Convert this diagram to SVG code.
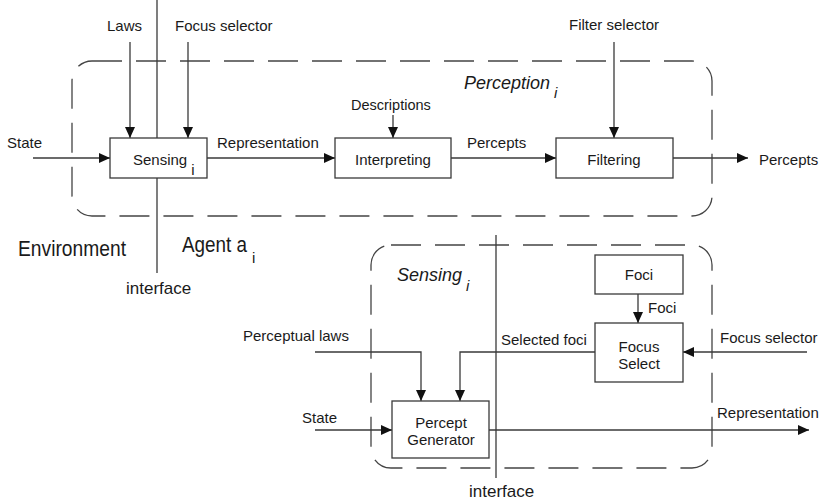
<svg xmlns="http://www.w3.org/2000/svg" width="823" height="503" viewBox="0 0 823 503">
  <style>
    text { font-family: "Liberation Sans", Arial, sans-serif; fill: #1a1a1a; }
    .lbl { font-size: 15px; }
    .big { font-size: 22px; }
    .title { font-size: 18px; font-style: italic; }
    .sub { font-size: 15px; }
    .box { fill: #ffffff; stroke: #3a3a3a; stroke-width: 1.3; }
    .line { fill: none; stroke: #3a3a3a; stroke-width: 1.3; }
    .arrow { fill: none; stroke: #3a3a3a; stroke-width: 1.3; marker-end: url(#head); }
    .dash { fill: none; stroke: #444; stroke-width: 1.3; stroke-dasharray: 30 14; }
  </style>
  <defs>
    <marker id="head" markerUnits="userSpaceOnUse" markerWidth="11" markerHeight="10" refX="11" refY="5" orient="auto">
      <path d="M0,0 L11,5 L0,10 z" fill="#111"/>
    </marker>
  </defs>
  <rect width="823" height="503" fill="#ffffff"/>

  <!-- module outlines -->
  <g id="perception-frame">
    <rect class="dash" x="72" y="61" width="640" height="155" rx="20" ry="20"/>
    <text class="title" x="464" y="89">Perception<tspan class="sub" dx="4" dy="9">i</tspan></text>
  </g>
  <g id="sensing-frame">
    <rect class="dash" x="371" y="245" width="341" height="223" rx="20" ry="20"/>
    <text class="title" x="397" y="281">Sensing<tspan class="sub" dx="4" dy="10">i</tspan></text>
  </g>

  <!-- environment / agent interface -->
  <g id="interface-top">
    <line class="line" x1="157" y1="0" x2="157" y2="273"/>
    <text class="big" x="18" y="256" textLength="108" lengthAdjust="spacingAndGlyphs">Environment</text>
    <text class="big" x="182" y="252"><tspan textLength="65" lengthAdjust="spacingAndGlyphs">Agent a</tspan><tspan class="sub" dx="5" dy="11">i</tspan></text>
    <text x="126" y="294" style="font-size:17px">interface</text>
  </g>
  <g id="interface-bottom">
    <line class="line" x1="496" y1="235" x2="496" y2="478"/>
    <text x="469" y="497" style="font-size:17px">interface</text>
  </g>

  <!-- connectors -->
  <g id="connectors">
    <line class="arrow" x1="33" y1="158" x2="110" y2="158"/>
    <line class="arrow" x1="130" y1="42" x2="130" y2="138"/>
    <line class="arrow" x1="188" y1="42" x2="188" y2="138"/>
    <line class="arrow" x1="207" y1="158" x2="335" y2="158"/>
    <line class="arrow" x1="393" y1="115" x2="393" y2="138"/>
    <line class="arrow" x1="451" y1="158" x2="556" y2="158"/>
    <line class="arrow" x1="614" y1="42" x2="614" y2="138"/>
    <line class="arrow" x1="673" y1="158" x2="748" y2="158"/>

    <line class="arrow" x1="638" y1="294" x2="638" y2="323"/>
    <line class="arrow" x1="807" y1="352" x2="683" y2="352"/>
    <polyline class="arrow" points="595,352 460,352 460,401"/>
    <polyline class="arrow" points="315,352 421,352 421,401"/>
    <line class="arrow" x1="315" y1="430" x2="392" y2="430"/>
    <line class="arrow" x1="489" y1="430" x2="809" y2="430"/>
  </g>

  <!-- connector labels -->
  <g id="labels">
    <text class="lbl" x="107" y="31">Laws</text>
    <text class="lbl" x="175" y="31">Focus selector</text>
    <text class="lbl" x="569" y="30">Filter selector</text>
    <text class="lbl" x="7" y="148">State</text>
    <text class="lbl" x="217" y="148">Representation</text>
    <text class="lbl" x="351" y="110" style="font-size:14.5px">Descriptions</text>
    <text class="lbl" x="467" y="148">Percepts</text>
    <text class="lbl" x="759" y="165">Percepts</text>
    <text class="lbl" x="648" y="313">Foci</text>
    <text class="lbl" x="720" y="343">Focus selector</text>
    <text class="lbl" x="501" y="345">Selected foci</text>
    <text class="lbl" x="243" y="341">Perceptual laws</text>
    <text class="lbl" x="302" y="423">State</text>
    <text class="lbl" x="717" y="418">Representation</text>
  </g>

  <!-- processing blocks -->
  <g id="sensing">
    <rect class="box" x="110" y="138" width="97" height="40"/>
    <text class="lbl" x="133" y="165">Sensing<tspan dx="4" dy="10">i</tspan></text>
  </g>
  <g id="interpreting">
    <rect class="box" x="335" y="138" width="116" height="40"/>
    <text class="lbl" x="393" y="165" text-anchor="middle">Interpreting</text>
  </g>
  <g id="filtering">
    <rect class="box" x="556" y="138" width="117" height="40"/>
    <text class="lbl" x="614" y="165" text-anchor="middle">Filtering</text>
  </g>
  <g id="foci">
    <rect class="box" x="595" y="255" width="88" height="39"/>
    <text class="lbl" x="639" y="280" text-anchor="middle">Foci</text>
  </g>
  <g id="focus-select">
    <rect class="box" x="595" y="323" width="88" height="59"/>
    <text class="lbl" x="639" y="352" text-anchor="middle">Focus</text>
    <text class="lbl" x="639" y="369" text-anchor="middle">Select</text>
  </g>
  <g id="percept-generator">
    <rect class="box" x="392" y="401" width="97" height="57"/>
    <text class="lbl" x="441" y="428" text-anchor="middle">Percept</text>
    <text class="lbl" x="441" y="445" text-anchor="middle">Generator</text>
  </g>
</svg>
